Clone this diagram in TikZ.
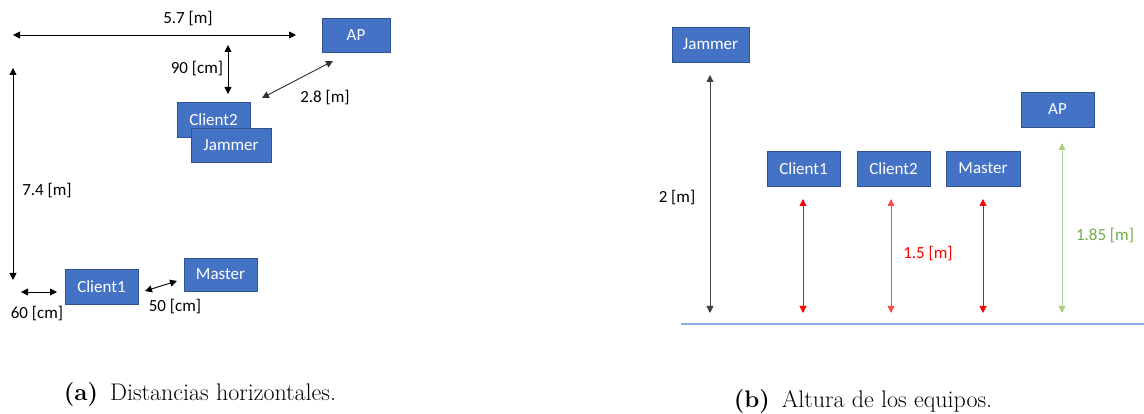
\documentclass[tikz,border=0pt]{standalone}
\usepackage{fontspec}
\newfontfamily\carlito{Carlito}
\usetikzlibrary{arrows.meta}
\definecolor{boxblue}{HTML}{4472C4}
\definecolor{boxedge}{HTML}{2F528F}
\definecolor{lgreen}{HTML}{A9D18E}
\definecolor{tgreen}{HTML}{70AD47}
\definecolor{lineblue}{HTML}{8FAADC}
\tikzset{
  devbox/.style={fill=boxblue, draw=boxedge, line width=0.6pt, text=white, inner sep=0pt,
    font=\carlito\fontsize{17}{19}\selectfont},
  lbl/.style={inner sep=0pt, font=\carlito\fontsize{17}{19}\selectfont},
  dim/.style={line width=0.9pt, {Triangle[length=7pt,width=7pt]}-{Triangle[length=7pt,width=7pt]}},
  captext/.style={inner sep=0pt, font=\fontsize{24}{28}\selectfont}
}
\begin{document}
\begin{tikzpicture}[x=1pt,y=-1pt]
\useasboundingbox (0,0) rectangle (1144,414);
% ---------- (a) ----------
\node[devbox, minimum width=68pt, minimum height=34pt] (apA) at (356,35) {AP};
\node[devbox, minimum width=73pt, minimum height=35pt] (c2A) at (213.5,119.5) {Client2};
\node[devbox, minimum width=80pt, minimum height=34pt] (jamA) at (231,145) {Jammer};
\node[devbox, minimum width=73pt, minimum height=35pt] (c1A) at (101.5,286.5) {Client1};
\node[devbox, minimum width=73pt, minimum height=33pt] (maA) at (220.5,274.5) {Master};

\coordinate (h1) at (13,35);
\coordinate (h2) at (296,35);
\draw[dim] (h1) -- (h2);
\node[lbl] (l57) at (188,19) {5.7 [m]};

\coordinate (v1) at (228,45);
\coordinate (v2) at (228,94);
\draw[dim] (v1) -- (v2);
\node[lbl] (l90) at (197,69) {90 [cm]};

\coordinate (d1) at (262,98);
\coordinate (d2) at (333,61);
\draw[dim, draw=black!80, fill=black!80] (d1) -- (d2);
\node[lbl] (l28) at (325,98) {2.8 [m]};

\coordinate (y1) at (13,68);
\coordinate (y2) at (13,280);
\draw[dim] (y1) -- (y2);
\node[lbl] (l74) at (47,191) {7.4 [m]};

\coordinate (s1) at (21,292);
\coordinate (s2) at (57,292);
\draw[dim] (s1) -- (s2);
\node[lbl] (l60) at (37,314) {60 [cm]};

\coordinate (m1) at (145,291);
\coordinate (m2) at (177,281);
\draw[dim] (m1) -- (m2);
\node[lbl] (l50) at (175,307) {50 [cm]};

\node[captext] (capA) at (200,395) {\textbf{(a)}\enspace Distancias horizontales.};

% ---------- (b) ----------
\node[devbox, minimum width=77pt, minimum height=35pt] (jamB) at (710.5,44.5) {Jammer};
\node[devbox, minimum width=73pt, minimum height=35pt] (apB) at (1057.5,109.5) {AP};
\node[devbox, minimum width=73pt, minimum height=35pt] (c1B) at (803.5,168.5) {Client1};
\node[devbox, minimum width=73pt, minimum height=35pt] (c2B) at (893.5,168.5) {Client2};
\node[devbox, minimum width=74pt, minimum height=35pt] (maB) at (983,168.5) {Master};

\coordinate (g1) at (681,324);
\coordinate (g2) at (1144,324);
\draw[lineblue, line width=1.2pt] (g1) -- (g2);

\coordinate (jb1) at (710,75);
\coordinate (jb2) at (710,313);
\draw[dim, draw=black!75, fill=black] (jb1) -- (jb2);
\node[lbl] (l2) at (677,198) {2 [m]};

\coordinate (r1a) at (803,199);
\coordinate (r1b) at (803,313);
\draw[dim, red] (r1a) -- (r1b);
\coordinate (r2a) at (891,199);
\coordinate (r2b) at (891,313);
\draw[dim, draw=red!70, fill=red] (r2a) -- (r2b);
\coordinate (r3a) at (983,199);
\coordinate (r3b) at (983,313);
\draw[dim, red] (r3a) -- (r3b);
\node[lbl, text=red] (l15) at (928,254) {1.5 [m]};

\coordinate (gr1) at (1062,143);
\coordinate (gr2) at (1062,313);
\draw[dim, lgreen] (gr1) -- (gr2);
\node[lbl, text=tgreen] (l185) at (1105,236) {1.85 [m]};

\node[captext] (capB) at (863,402) {\textbf{(b)}\enspace Altura de los equipos.};
\end{tikzpicture}
\end{document}
